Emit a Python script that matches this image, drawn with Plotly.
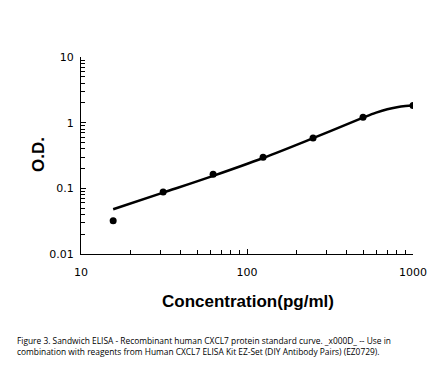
import plotly.graph_objects as go

# Standard points
conc = [15.625, 31.25, 62.5, 125, 250, 500, 1000]
od = [0.032, 0.088, 0.164, 0.298, 0.585, 1.21, 1.82]

# Fitted curve
curve_x = [15.625, 31.25, 62.5, 125, 250, 500, 600, 700, 800, 900, 1000]
curve_y = [0.048, 0.086, 0.155, 0.29, 0.58, 1.19, 1.42, 1.6, 1.72, 1.79, 1.82]

x_ticks = [10, 100, 1000]
y_ticks = [0.01, 0.1, 1, 10]
y_ticktext = ["0.01", "0.1", "1", "10"]

caption = ("Figure 3. Sandwich ELISA - Recombinant human CXCL7 protein standard curve. _x000D_ -- Use in<br>"
           "combination with reagents from Human CXCL7 ELISA Kit EZ-Set (DIY Antibody Pairs) (EZ0729).")

OFF = 8  # browser default body margin
W, H = 446 - OFF, 366 - OFF
L, R, T, B = 81 - OFF, 33, 57 - OFF, 112
pw, ph = W - L - R, H - T - B

def px(x):
    return (x - OFF - L) / pw

def py(y):
    return (H - B - (y - OFF)) / ph

fig = go.Figure()
fig.add_trace(go.Scatter(x=curve_x, y=curve_y, mode="lines",
                         line=dict(color="black", width=2.5, shape="spline", smoothing=1.0),
                         hoverinfo="skip", showlegend=False))
fig.add_trace(go.Scatter(x=conc, y=od, mode="markers",
                         marker=dict(color="black", size=7), showlegend=False))

fig.update_layout(
    width=W, height=H,
    margin=dict(l=L, r=R, t=T, b=B, autoexpand=False),
    paper_bgcolor="white", plot_bgcolor="white",
    font=dict(family="DejaVu Sans", color="black", size=11),
    xaxis=dict(type="log", range=[1, 3], tickvals=x_ticks, ticktext=[str(v) for v in x_ticks],
               showline=True, linecolor="black", linewidth=1, ticks="inside", ticklen=5,
               tickcolor="black", showgrid=False, zeroline=False, ticklabelstandoff=8,
               automargin=False,
               minor=dict(ticks="inside", ticklen=4, tickcolor="black", dtick="D1", showgrid=False)),
    yaxis=dict(type="log", range=[-2, 1], tickvals=y_ticks, ticktext=y_ticktext,
               showline=True, linecolor="black", linewidth=1, ticks="inside", ticklen=5,
               tickcolor="black", showgrid=False, zeroline=False, ticklabelstandoff=4,
               automargin=False,
               minor=dict(ticks="inside", ticklen=4, tickcolor="black", dtick="D1", showgrid=False)),
    annotations=[
        dict(text=caption, x=px(15), y=py(346), xref="paper", yref="paper", showarrow=False,
             xanchor="left", yanchor="middle", align="left",
             font=dict(family="Open Sans", size=8.4, color="black")),
        dict(text="<b>Concentration(pg/ml)</b>", x=px(248), y=py(301), xref="paper", yref="paper",
             showarrow=False, xanchor="center", yanchor="middle",
             font=dict(family="Liberation Sans", size=17, color="black")),
        dict(text="<b>O.D.</b>", x=px(38), y=py(155), xref="paper", yref="paper", textangle=-90,
             showarrow=False, xanchor="center", yanchor="middle",
             font=dict(family="Liberation Sans", size=17, color="black")),
    ],
)

fig.write_html("out.html")
